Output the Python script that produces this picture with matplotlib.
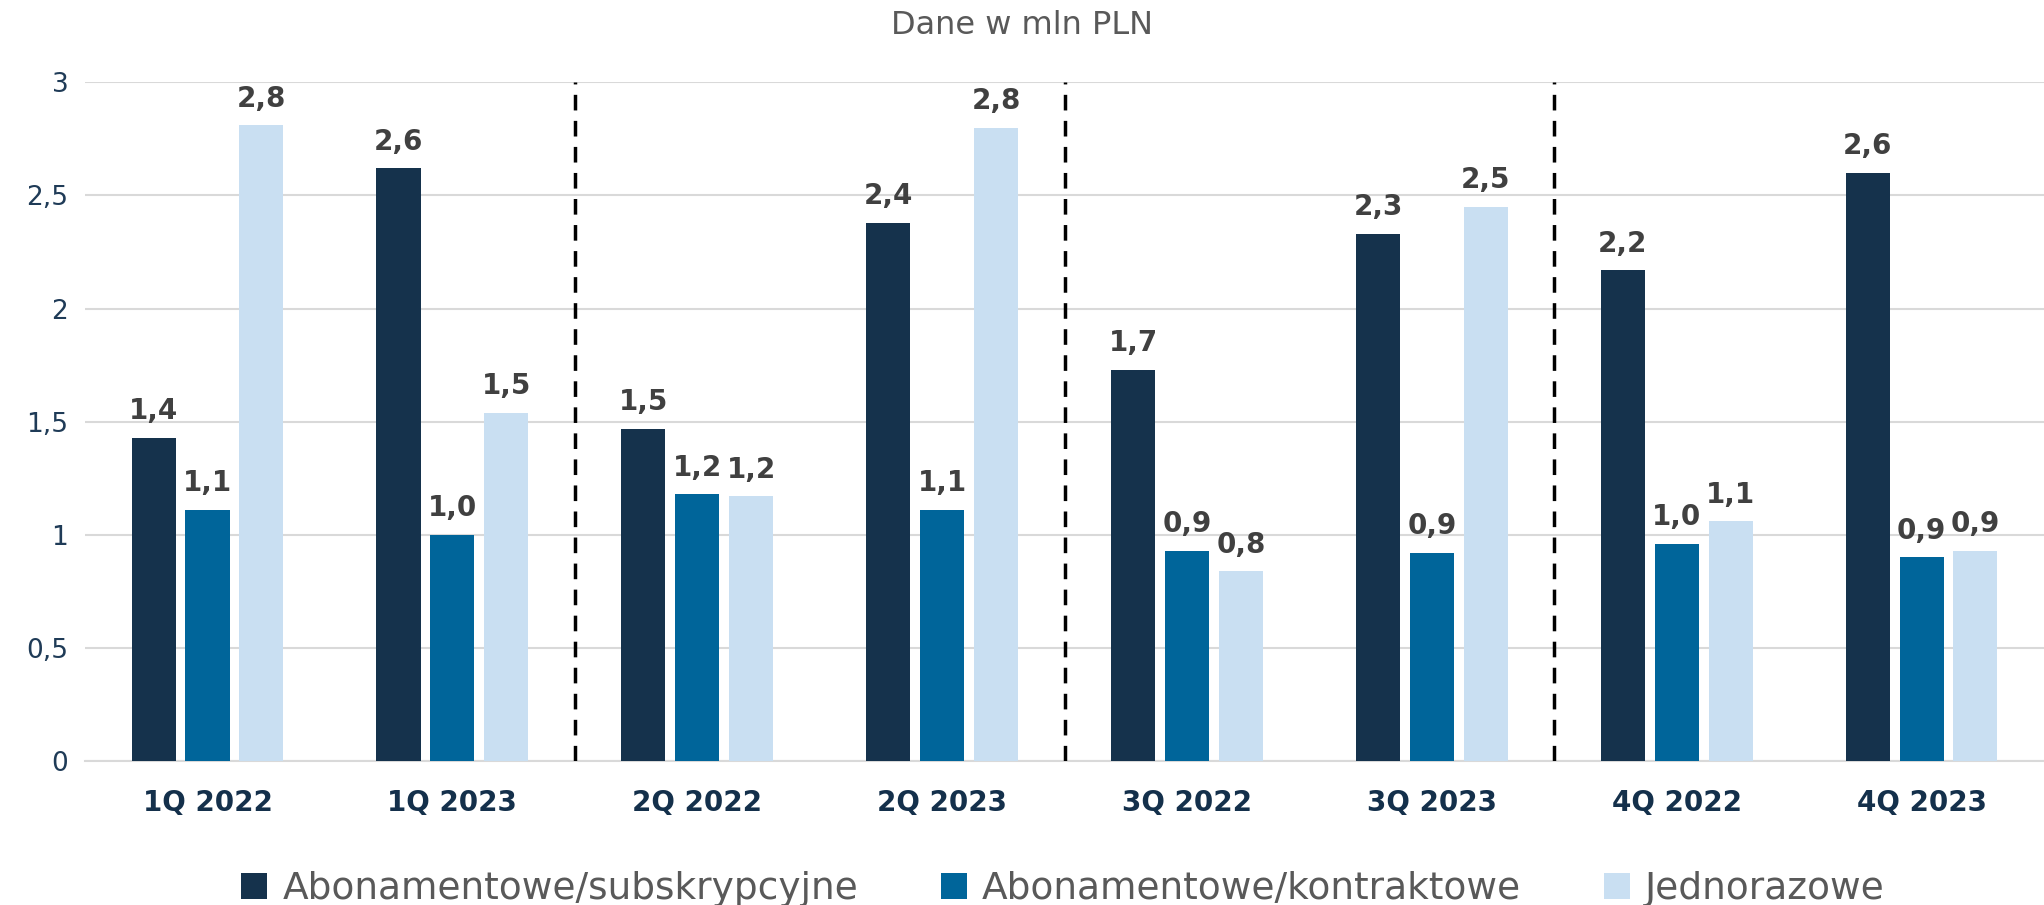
import numpy as np
import matplotlib.pyplot as plt

quarters = ["1Q 2022", "1Q 2023", "2Q 2022", "2Q 2023", "3Q 2022", "3Q 2023", "4Q 2022", "4Q 2023"]
subskrypcyjne = [1.43, 2.62, 1.47, 2.38, 1.73, 2.33, 2.17, 2.60]
kontraktowe = [1.11, 1.00, 1.18, 1.11, 0.93, 0.92, 0.96, 0.90]
jednorazowe = [2.81, 1.54, 1.17, 2.80, 0.84, 2.45, 1.06, 0.93]
series_names = ["Abonamentowe/subskrypcyjne", "Abonamentowe/kontraktowe", "Jednorazowe"]
colors = ["#15324c", "#00659a", "#c9dff2"]

plt.rcParams['font.family'] = ['DejaVu Sans']
fig = plt.figure(figsize=(20.44, 9.05), dpi=100)
ax = fig.add_axes([0.0416, 0.159, 0.9584, 0.75])

x = np.arange(len(quarters))
w = 0.18
step = 0.22
for i, (vals, name, c) in enumerate(zip([subskrypcyjne, kontraktowe, jednorazowe], series_names, colors)):
    pos = x + (i - 1) * step
    ax.bar(pos, vals, width=w, color=c, label=name, zorder=3)
    for p, v in zip(pos, vals):
        ax.annotate(f"{v:.1f}".replace(".", ","), (p, v), xytext=(0, 9), textcoords="offset points",
                    ha="center", va="bottom", fontsize=20, fontweight="bold", color="#404040")

# separators between quarters
for b in [1.5, 3.5, 5.5]:
    ax.axvline(b, color="black", lw=2.5, ls=(0, (4.5, 3)), zorder=4)

ax.set_xlim(-0.5, len(quarters) - 0.5)
ax.set_ylim(0, 3)
ax.set_yticks([0, 0.5, 1, 1.5, 2, 2.5, 3])
ax.set_yticklabels(["0", "0,5", "1", "1,5", "2", "2,5", "3"], fontsize=19, color="#1f3b57")
ax.set_xticks(x)
ax.set_xticklabels(quarters, fontsize=20, fontweight="bold", color="#14304b")
ax.tick_params(axis="x", length=0, pad=20)
ax.tick_params(axis="y", length=0, pad=12)
ax.grid(axis="y", color="#d9d9d9", lw=1.5, zorder=0)
for s in ["top", "right", "left"]:
    ax.spines[s].set_visible(False)
ax.spines["bottom"].set_color("#d9d9d9")
ax.spines["bottom"].set_linewidth(1.5)

fig.text(0.5, 0.972, "Dane w mln PLN", ha="center", va="center", fontsize=23, color="#595959")

fig.legend(loc="lower center", bbox_to_anchor=(0.52, -0.04), ncol=3, frameon=False,
           fontsize=27, labelcolor="#595959", handlelength=0.7, handleheight=0.7,
           handletextpad=0.4, columnspacing=2.2)

fig.savefig("out.png", dpi=100)
